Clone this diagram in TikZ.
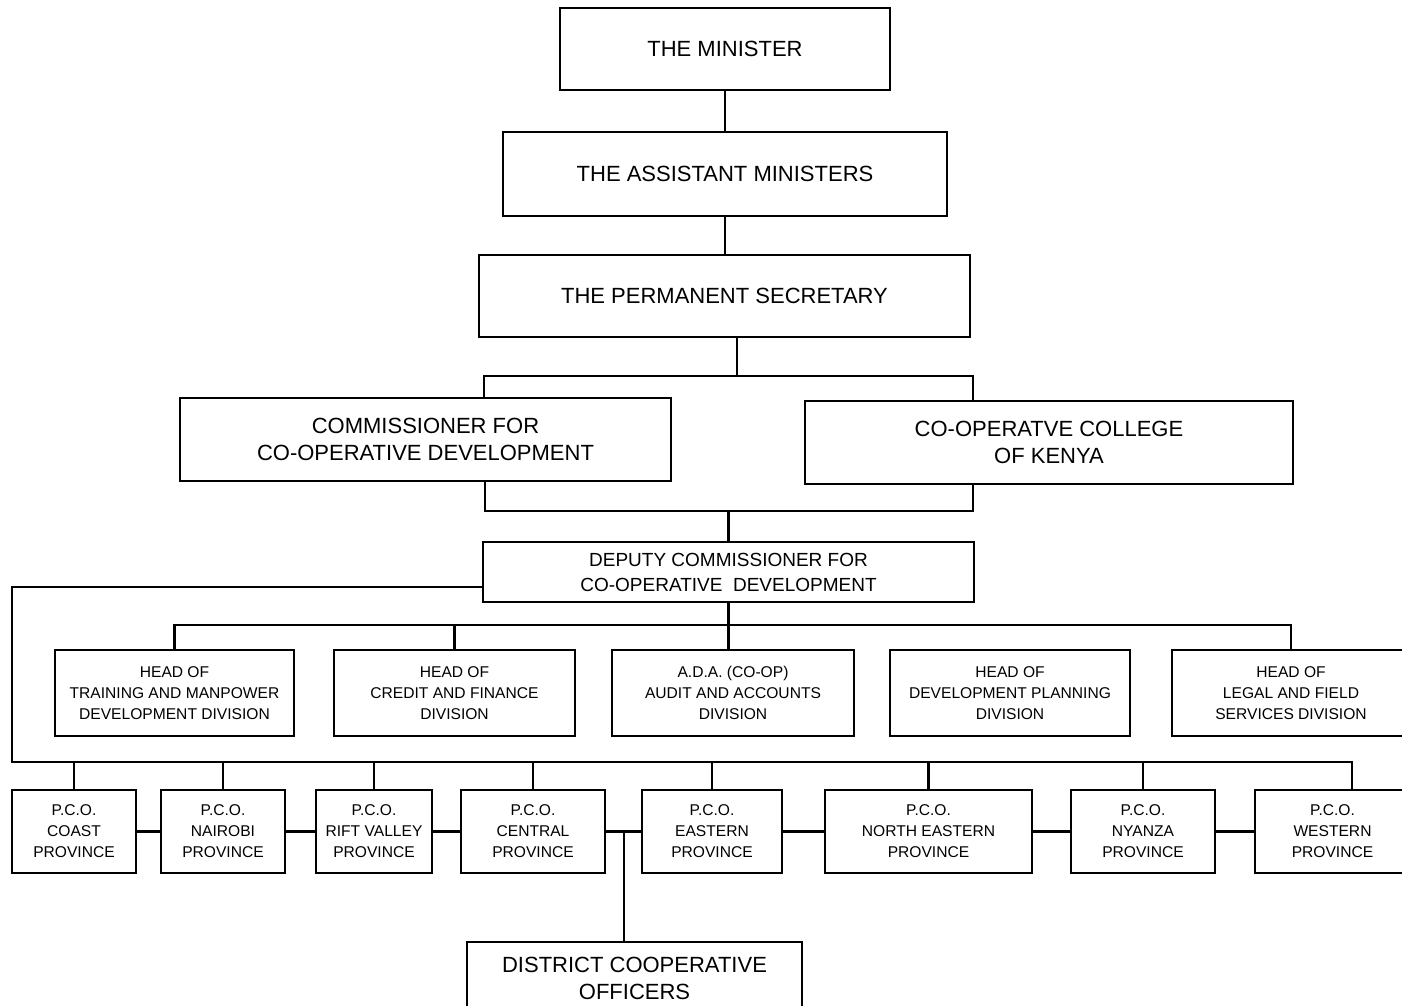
\documentclass[tikz,border=0pt]{standalone}
\usepackage{fontspec}
\setmainfont{Liberation Sans}
\usetikzlibrary{positioning}
\newcommand{\bigtxt}{\fontsize{11}{13.5}\selectfont}
\newcommand{\midtxt}{\fontsize{9.5}{12.5}\selectfont}
\newcommand{\smalltxt}{\fontsize{7.8}{10.5}\selectfont}

\begin{document}
\begin{tikzpicture}[x=0.5pt,y=-0.5pt,
  orgbox/.style={draw,line width=1.3pt,align=center,inner sep=0pt},
  link/.style={line width=1.2pt}]
\useasboundingbox (0,0) rectangle (1402,1006);
% top of the chart
\node[orgbox,minimum width=165pt,minimum height=41pt,font=\bigtxt] (min) at (725,49) {THE MINISTER};
\node[orgbox,minimum width=222pt,minimum height=42pt,font=\bigtxt] (asst) at (725,174) {THE ASSISTANT MINISTERS};
\node[orgbox,minimum width=245.5pt,minimum height=41pt,font=\bigtxt] (ps) at (724.5,296) {THE PERMANENT SECRETARY};
\node[orgbox,minimum width=245.5pt,minimum height=41.5pt,font=\bigtxt] (comm) at (425.5,439.5) {COMMISSIONER FOR\\CO-OPERATIVE DEVELOPMENT};
\node[orgbox,minimum width=244pt,minimum height=41.5pt,font=\bigtxt] (coll) at (1049,442.5) {CO-OPERATVE COLLEGE\\OF KENYA};
\node[orgbox,minimum width=245.5pt,minimum height=30pt,font=\midtxt] (dep) at (728.5,572) {DEPUTY COMMISSIONER FOR\\CO-OPERATIVE\ \ DEVELOPMENT};
% divisions
\node[orgbox,minimum width=119.5pt,minimum height=43pt,font=\smalltxt] (div1) at (174.5,693) {HEAD OF\\TRAINING AND MANPOWER\\DEVELOPMENT DIVISION};
\node[orgbox,minimum width=120.5pt,minimum height=43pt,font=\smalltxt] (div2) at (454.5,693) {HEAD OF\\CREDIT AND FINANCE\\DIVISION};
\node[orgbox,minimum width=121pt,minimum height=43pt,font=\smalltxt] (div3) at (733,693) {A.D.A. (CO-OP)\\AUDIT AND ACCOUNTS\\DIVISION};
\node[orgbox,minimum width=120pt,minimum height=43pt,font=\smalltxt] (div4) at (1010,693) {HEAD OF\\DEVELOPMENT PLANNING\\DIVISION};
\node[orgbox,minimum width=119pt,minimum height=43pt,font=\smalltxt] (div5) at (1291,693) {HEAD OF\\LEGAL AND FIELD\\SERVICES DIVISION};
% provincial officers
\node[orgbox,minimum width=62pt,minimum height=41.5pt,font=\smalltxt] (p1) at (74,831.5) {P.C.O.\\COAST\\PROVINCE};
\node[orgbox,minimum width=62pt,minimum height=41.5pt,font=\smalltxt] (p2) at (223,831.5) {P.C.O.\\NAIROBI\\PROVINCE};
\node[orgbox,minimum width=58pt,minimum height=41.5pt,font=\smalltxt] (p3) at (374,831.5) {P.C.O.\\RIFT VALLEY\\PROVINCE};
\node[orgbox,minimum width=72pt,minimum height=41.5pt,font=\smalltxt] (p4) at (533,831.5) {P.C.O.\\CENTRAL\\PROVINCE};
\node[orgbox,minimum width=70pt,minimum height=41.5pt,font=\smalltxt] (p5) at (712,831.5) {P.C.O.\\EASTERN\\PROVINCE};
\node[orgbox,minimum width=103.5pt,minimum height=41.5pt,font=\smalltxt] (p6) at (928.5,831.5) {P.C.O.\\NORTH EASTERN\\PROVINCE};
\node[orgbox,minimum width=72pt,minimum height=41.5pt,font=\smalltxt] (p7) at (1143,831.5) {P.C.O.\\NYANZA\\PROVINCE};
\node[orgbox,minimum width=77.5pt,minimum height=41.5pt,font=\smalltxt] (p8) at (1332.5,831.5) {P.C.O.\\WESTERN\\PROVINCE};
\node[orgbox,minimum width=167.5pt,minimum height=36.5pt,font=\bigtxt] (dco) at (634.5,978.5) {DISTRICT COOPERATIVE\\OFFICERS};
% bends and free ends
\coordinate (splitL) at (484,376);
\coordinate (splitR) at (973,376);
\coordinate (joinL) at (485,511);
\coordinate (joinR) at (973,511);
\coordinate (corner) at (12,587);
\coordinate (divbus) at (0,625);
\coordinate (provbus) at (12,762);
\coordinate (provend) at (1352,762);
\coordinate (tap) at (624,831.5);
% connectors
\draw[link] (min) -- (asst);
\draw[link] (asst.south) -- (asst.south |- ps.north);
\draw[link] (ps.south -| 737,0) -- (splitL -| 737,0);
\draw[link] (comm.north -| splitL) |- (splitR) -- (coll.north -| splitR);
\draw[link] (comm.south -| joinL) |- (joinR) -- (coll.south -| joinR);
\draw[link] (dep.north) -- (dep.north |- joinL);
\draw[link] (dep.south) -- (dep.south |- div3.north);
\draw[link] (div1.north) |- (div5.north |- divbus) -- (div5.north);
\draw[link] (div2.north) -- (div2.north |- divbus);
\draw[link] (dep.west |- corner) -- (corner) -- (provbus) -- (provend) -- (provend |- p8.north);
\foreach \p in {p1,p2,p3,p4,p5,p6,p7} {\draw[link] (\p.north) -- (\p.north |- provbus);}
\foreach \a/\b in {p1/p2,p2/p3,p3/p4,p4/p5,p5/p6,p6/p7,p7/p8} {\draw[link] (\a) -- (\b);}
\draw[link] (tap) -- (tap |- dco.north);
\end{tikzpicture}
\end{document}
